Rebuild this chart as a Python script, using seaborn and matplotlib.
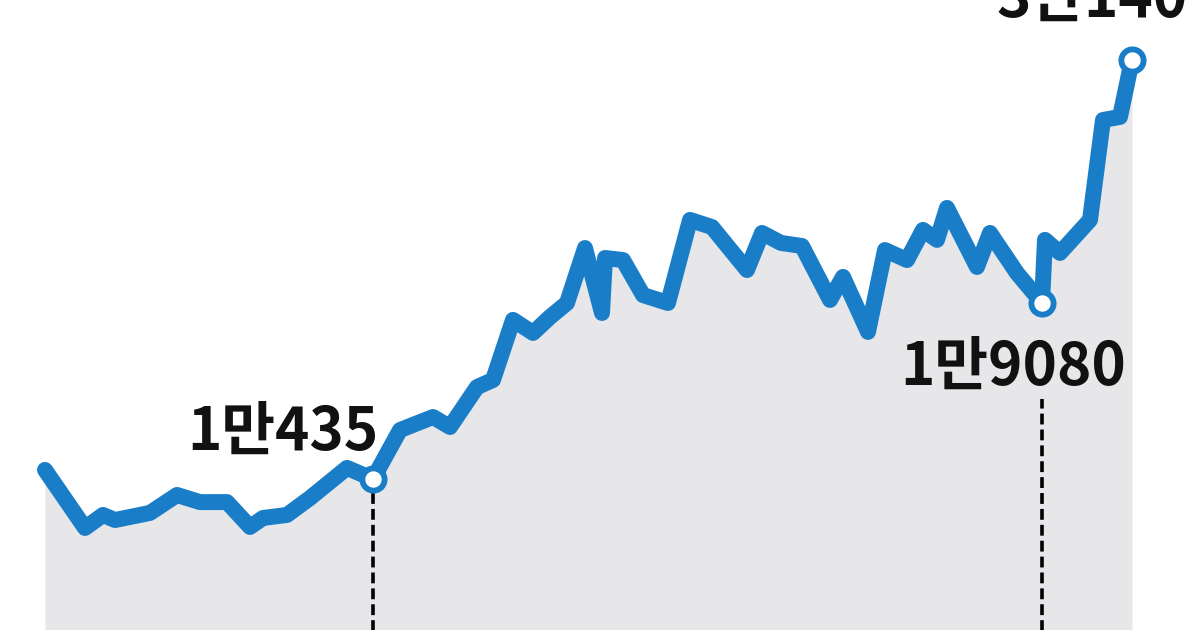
import matplotlib
matplotlib.use("Agg")
import matplotlib.pyplot as plt
import seaborn as sns
import pandas as pd

# ─────────────────────────────────────────────
# DATA
# ─────────────────────────────────────────────
day = [0, 4, 5.8, 7, 10.5, 13.2, 15.5, 18.2, 20.5, 21.8, 24.2, 26.5, 30.2,
       32.8, 35.5, 38.8, 40.5, 43.2, 44.8, 46.8, 48.8, 50.5, 52.2, 54, 55.7,
       56, 57.8, 59.8, 62.3, 64.5, 66.7, 70.2, 71.7, 73.6, 75.7, 78.5, 79.8,
       82.3, 84, 86.2, 87.8, 89.2, 90.2, 93.2, 94.5, 97.2, 99.7, 100, 101.5,
       104.5, 105.8, 107.5, 108.7]
price = [10880, 8030, 8670, 8420, 8770, 9650, 9300, 9300, 8080, 8520, 8670,
         9500, 10980, 10435, 12840, 13480, 12990, 14950, 15300, 18250, 17610,
         18390, 19080, 21780, 18590, 21290, 21190, 19470, 19080, 23160, 22810,
         20700, 22520, 22030, 21880, 19230, 20360, 17660, 21680, 21190, 22670,
         22180, 23750, 20850, 22520, 20550, 19080, 22180, 21540, 23160, 28070,
         28220, 31020]

# highlighted points: (index in series, label)
mark_idx = [13, 46, 52]
mark_text = ["1만435", "1만9080", "3만140"]

BLUE = "#1a7dc8"
FILL = "#e7e7ea"

df = pd.DataFrame({"day": day, "price": price})

sns.set_theme(style="white")
plt.rcParams["font.family"] = ["Noto Sans CJK KR", "DejaVu Sans"]

fig = plt.figure(figsize=(12, 6.3), dpi=100)
ax = fig.add_axes([0, 0, 1, 1])

ymin, ymax = 3018, 33963
ax.fill_between(df["day"], df["price"], ymin - 1000, color=FILL, lw=0, zorder=1)

# dashed drop lines under the two low points
for i, gap in [(13, 650), (46, 4700)]:
    ax.vlines(day[i], ymin - 1000, price[i] - gap, colors="black",
              linestyles=(0, (3, 1.4)), linewidth=2.6, zorder=2)

sns.lineplot(data=df, x="day", y="price", color=BLUE, linewidth=11.5,
             sort=False, estimator=None, ax=ax, zorder=3,
             solid_joinstyle="round", solid_capstyle="round")

ax.plot([day[i] for i in mark_idx], [price[i] for i in mark_idx], "o",
        ms=16, mfc="white", mec=BLUE, mew=4.2, zorder=4)

# labels (offsets in points from each marker)
offsets = [(3.6, 21, "right"), (-21, -59, "center"), (-29, 31, "center")]
for i, txt, (dx, dy, ha) in zip(mark_idx, mark_text, offsets):
    ax.annotate(txt, (day[i], price[i]), xytext=(dx, dy),
                textcoords="offset points", ha=ha, va="baseline",
                fontsize=42, fontweight="heavy", color="#111111", zorder=5)

ax.set_xlim(-4.5, 115.5)
ax.set_ylim(ymin, ymax)
ax.axis("off")

plt.savefig("out.png", dpi=100)
plt.close()
